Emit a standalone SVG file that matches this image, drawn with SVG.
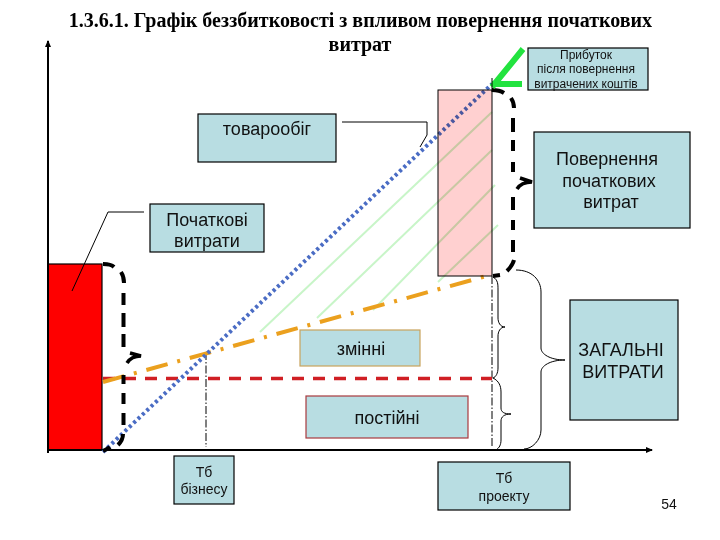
<svg xmlns="http://www.w3.org/2000/svg" width="720" height="540" viewBox="0 0 720 540">
<style>
.b{fill:#b8dde2;stroke:#000;stroke-width:1.2}
text{font-family:"Liberation Sans",Arial,sans-serif;fill:#111;text-anchor:middle}
.t{font-family:"Liberation Serif","Times New Roman",serif;font-weight:bold;font-size:20px;fill:#000}
.l{font-size:18px}.s{font-size:14px}.x{font-size:12px}
.g{stroke:#c8f5c8;stroke-width:2;fill:none}
.th{stroke:#000;stroke-width:1;fill:none}
.dd{stroke:#000;stroke-width:1;fill:none;stroke-dasharray:8 2 1.5 2}
.br{stroke:#000;stroke-width:4;fill:none}
.tip{stroke:#000;stroke-width:3.5;fill:none}
</style>
<defs>
<marker id="ah" markerWidth="8" markerHeight="8" refX="6" refY="3" orient="auto" markerUnits="userSpaceOnUse"><path d="M0,0L7,3L0,6Z" fill="#000"/></marker>
</defs>
<rect width="720" height="540" fill="#fff"/>
<text id="title" class="t" x="360.500" y="27">1.3.6.1. Графік беззбитковості з впливом повернення початкових</text>
<text id="title2" class="t" x="360" y="51">витрат</text>
<g id="red"><rect x="48" y="264" width="54" height="186" fill="#fe0000" stroke="#000" stroke-width="1.200"/></g>

<g id="connectors">
<path class="g" d="M260,332L492,112M317,318L492,150M373,310L495,185M438,282L498,225"/>
<path d="M48,450V41" stroke="#000" stroke-width="2" marker-end="url(#ah)"/>
<path d="M48,453V450H652" stroke="#000" stroke-width="2" fill="none" marker-end="url(#ah)"/>
<path class="dd" d="M206,352V447M492,276V447"/>
<path d="M103,378.500H492" stroke="#d01f24" stroke-width="3.500" stroke-dasharray="12 9" fill="none"/>
<path d="M103,382L490,275" stroke="#eba01e" stroke-width="4" stroke-dasharray="22 10 3 10" fill="none"/>
<path d="M103,452L492,84" stroke="#4a6cc4" stroke-width="4" stroke-dasharray="3 3" fill="none"/>
<path class="th" d="M342,122H427V135L420,147"/>
<path class="th" d="M144,212H108L72,291"/>
<path class="br" d="M103,264C108,264 112,265 114,267M121,272C123,275 124,279 124,283M123.500,293V305M123.500,313V327M123.500,334V347M123.500,375V384M123.500,393V404M123.500,413V425M123,434C123,438 121,442 118,445M110,447C108,449 105,450 103,451"/>
<path class="tip" d="M127,363C130,358 134,356 141,356L130,353"/>
<path class="br" d="M492,90C497,90 501,91 504,93M511,98C513,101 514,104 514,108M513,118V132M513,140V151M513,162V172M513,197V210M513,220V230M513,240V252M514,260C513,264 510,268 507,271M493,276L500,275"/>
<path class="tip" d="M517,189C520,184 524,182 532,182L520,178"/>
<path class="th" d="M516,270C532,270 541,280 541,292V348C541,354 550,360 565,360C550,360 541,366 541,372V430C541,440 532,449 524,449"/>
<path class="th" d="M493,277C498,280 498,284 498,290V318C498,322 500,327 505,327C500,327 498,332 498,336V368C498,373 496,377 493,378"/>
<path class="th" d="M493,378C499,381 501,386 501,392V408C501,412 504,414 511,414C504,414 501,417 501,421V440C501,445 499,448 497,449"/>
<path d="M523,49L492,87M492,84H522" stroke="#22e33f" stroke-width="6" fill="none"/>
<path class="th" d="M492,78V92"/>
</g>

<g id="pink"><rect x="438" y="90" width="54" height="186" fill="#ffd0d0" stroke="#000" stroke-width="1" style="mix-blend-mode:multiply"/></g>
<g id="turnover"><rect class="b" x="198" y="114" width="138" height="48"/><text class="l" x="267" y="135">товарообіг</text></g>
<g id="initial"><rect class="b" x="150" y="204" width="114" height="48"/><text class="l" x="207" y="226">Початкові</text><text class="l" x="207" y="247">витрати</text></g>
<g id="profit"><rect class="b" x="528" y="48" width="120" height="42"/><text class="x" x="586" y="59">Прибуток</text><text class="x" x="586" y="73">після повернення</text><text class="x" x="586" y="88">витрачених коштів</text></g>
<g id="return"><rect class="b" x="534" y="132" width="156" height="96"/><text class="l" x="607" y="165">Повернення</text><text class="l" x="609" y="187">початкових</text><text class="l" x="611" y="208">витрат</text></g>
<g id="variable"><rect class="b" x="300" y="330" width="120" height="36" style="stroke:#c9a35c"/><text class="l" x="361" y="355">змінні</text></g>
<g id="fixed"><rect class="b" x="306" y="396" width="162" height="42" style="stroke:#a83a3e"/><text class="l" x="387" y="424">постійні</text></g>
<g id="total"><rect class="b" x="570" y="300" width="108" height="120"/><text class="l" x="621" y="356">ЗАГАЛЬНІ</text><text class="l" x="623" y="378">ВИТРАТИ</text></g>
<g id="tb1"><rect class="b" x="174" y="456" width="60" height="48"/><text class="s" x="204" y="477">Тб</text><text class="s" x="204" y="494">бізнесу</text></g>
<g id="tb2"><rect class="b" x="438" y="462" width="132" height="48"/><text class="s" x="504" y="483">Тб</text><text class="s" x="504" y="501">проекту</text></g>
<text id="page" class="s" x="669" y="509">54</text>
</svg>
